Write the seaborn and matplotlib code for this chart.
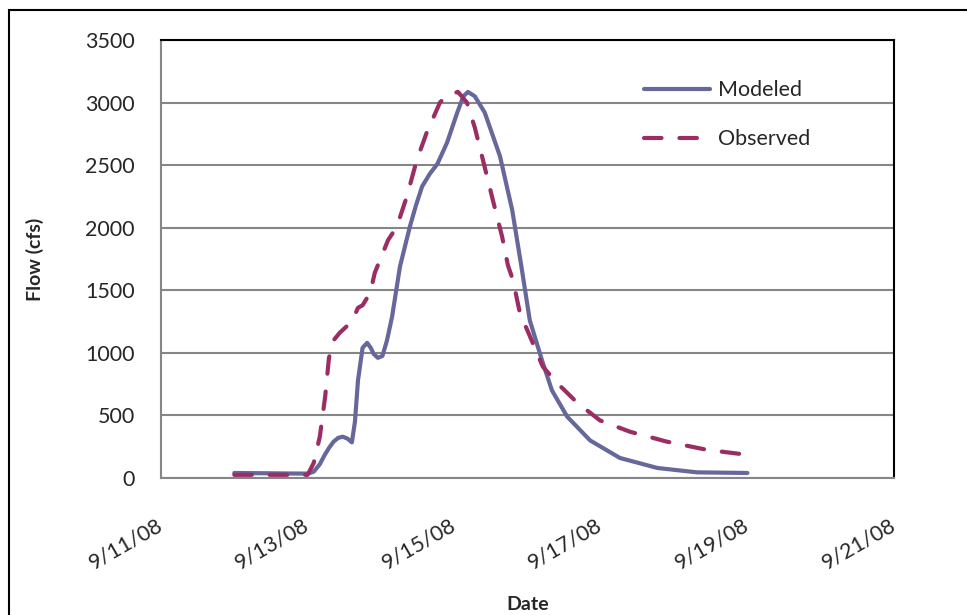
import numpy as np
import pandas as pd
import matplotlib
matplotlib.use("Agg")
import matplotlib.pyplot as plt
from matplotlib.patches import Rectangle
import seaborn as sns

# modeled flow
mod_time = ["2008-09-12 00:00", "2008-09-12 18:00", "2008-09-13 00:00", "2008-09-13 02:00",
            "2008-09-13 04:00", "2008-09-13 05:30", "2008-09-13 07:00", "2008-09-13 08:30",
            "2008-09-13 10:00", "2008-09-13 11:30", "2008-09-13 13:00", "2008-09-13 14:30",
            "2008-09-13 15:30", "2008-09-13 16:30", "2008-09-13 18:00", "2008-09-13 19:30",
            "2008-09-13 20:40", "2008-09-13 21:40", "2008-09-13 23:00", "2008-09-14 00:30",
            "2008-09-14 02:00", "2008-09-14 03:40", "2008-09-14 06:15", "2008-09-14 09:30",
            "2008-09-14 11:30", "2008-09-14 13:30", "2008-09-14 16:00", "2008-09-14 18:30",
            "2008-09-14 21:40", "2008-09-15 01:00", "2008-09-15 03:00", "2008-09-15 04:30",
            "2008-09-15 06:45", "2008-09-15 10:00", "2008-09-15 15:00", "2008-09-15 19:00",
            "2008-09-15 22:00", "2008-09-16 00:45", "2008-09-16 04:45", "2008-09-16 08:00",
            "2008-09-16 13:00", "2008-09-16 20:30", "2008-09-17 06:15", "2008-09-17 18:30",
            "2008-09-18 07:30", "2008-09-19 00:00"]
mod_flow = [40, 36, 35, 50, 110, 180, 240, 290, 320, 330, 315, 285,
            450, 780, 1040, 1080, 1040, 990, 960, 975,
            1100, 1290, 1690, 2010, 2180, 2330, 2430, 2510,
            2680, 2920, 3050, 3085, 3050, 2920, 2570, 2140,
            1690, 1260, 940, 700, 490, 300, 160, 80, 45, 40]

# observed flow
obs_time = ["2008-09-12 00:00", "2008-09-13 00:00", "2008-09-13 02:00", "2008-09-13 04:00",
            "2008-09-13 05:45", "2008-09-13 07:00", "2008-09-13 08:30", "2008-09-13 10:30",
            "2008-09-13 14:30", "2008-09-13 16:30", "2008-09-13 18:00", "2008-09-13 20:30",
            "2008-09-13 22:00", "2008-09-14 02:20", "2008-09-14 05:15", "2008-09-14 08:30",
            "2008-09-14 11:45", "2008-09-14 15:00", "2008-09-14 19:20", "2008-09-14 21:40",
            "2008-09-15 01:15", "2008-09-15 04:10", "2008-09-15 06:45", "2008-09-15 09:25",
            "2008-09-15 12:40", "2008-09-15 15:40", "2008-09-15 17:35", "2008-09-15 19:15",
            "2008-09-15 21:30", "2008-09-16 00:50", "2008-09-16 05:00", "2008-09-16 09:40",
            "2008-09-16 16:20", "2008-09-16 23:45", "2008-09-17 09:30", "2008-09-17 21:40",
            "2008-09-18 10:45", "2008-09-19 00:00"]
obs_flow = [25, 25, 120, 330, 650, 960, 1100, 1160, 1250, 1360, 1380, 1480,
            1640, 1900, 2010, 2250, 2540, 2760, 3000, 3060,
            3085, 3000, 2800, 2540, 2220, 1930, 1700, 1580,
            1320, 1130, 890, 760, 600, 460, 370, 290, 225, 185]

tick_dates = ["2008-09-11", "2008-09-13", "2008-09-15", "2008-09-17", "2008-09-19", "2008-09-21"]
tick_labels = ["9/11/08", "9/13/08", "9/15/08", "9/17/08", "9/19/08", "9/21/08"]

df = pd.concat([
    pd.DataFrame({"time": pd.to_datetime(mod_time), "flow": mod_flow, "series": "Modeled"}),
    pd.DataFrame({"time": pd.to_datetime(obs_time), "flow": obs_flow, "series": "Observed"}),
])

sns.set_style("white")
plt.rcParams["font.family"] = ["Lato", "DejaVu Sans"]

fig = plt.figure(figsize=(9.67, 6.15), dpi=100)
ax = fig.add_axes([0.1665, 0.2228, 0.7580, 0.7122])

grid_c = "#868686"
for v in range(0, 3501, 500):
    ax.axhline(v, color=grid_c, lw=1.5, zorder=0)

colors = {"Modeled": "#66689c", "Observed": "#9b2d63"}
sns.lineplot(data=df, x="time", y="flow", hue="series", style="series",
             palette=colors, dashes={"Modeled": "", "Observed": (4.2, 4.3)},
             lw=3, ax=ax, legend=True, estimator=None, sort=False)
for ln in ax.lines:
    ln.set_solid_capstyle("round")
    ln.set_dash_capstyle("round")
    ln.set_solid_joinstyle("round")
    ln.set_dash_joinstyle("round")

ax.set_xlim(pd.Timestamp(tick_dates[0]), pd.Timestamp(tick_dates[-1]))
ax.set_ylim(0, 3500)
ax.set_yticks(range(0, 3501, 500))
ax.set_xticks(pd.to_datetime(tick_dates))
ax.set_xticklabels(tick_labels, rotation=30, ha="right", rotation_mode="anchor")
ax.tick_params(axis="x", length=7, width=1.5, color=grid_c, pad=26, labelsize=15.5)
ax.tick_params(axis="y", length=7, width=1.5, color=grid_c, pad=12, labelsize=15.5)
for lab in ax.get_xticklabels():
    lab.set_va("center")

ax.spines["left"].set_color(grid_c)
ax.spines["bottom"].set_color(grid_c)
ax.spines["left"].set_linewidth(1.5)
ax.spines["bottom"].set_linewidth(1.5)
ax.spines["top"].set_color("black")
ax.spines["right"].set_color("black")
ax.spines["top"].set_linewidth(1.5)
ax.spines["right"].set_linewidth(1.5)

ax.set_xlabel("Date", fontsize=14, fontweight="bold", labelpad=0)
ax.xaxis.set_label_coords(0.5, -0.27)
ax.set_ylabel("Flow (cfs)", fontsize=14, fontweight="bold")
ax.yaxis.set_label_coords(-0.16, 0.5)

handles, labels = ax.get_legend_handles_labels()
for h in handles:
    h.set_dash_capstyle("round")
    h.set_solid_capstyle("round")
ax.legend(handles, labels, loc="upper left", bbox_to_anchor=(0.632, 0.952),
          frameon=False, fontsize=15.5, handlelength=3.1, labelspacing=1.35,
          handletextpad=0.35)

# outer chart border
fig.patches.append(Rectangle((0.0093, -0.05), 1.1, 1.0337, transform=fig.transFigure,
                             fill=False, edgecolor="black", lw=1.5))

fig.savefig("out.png", dpi=100)
